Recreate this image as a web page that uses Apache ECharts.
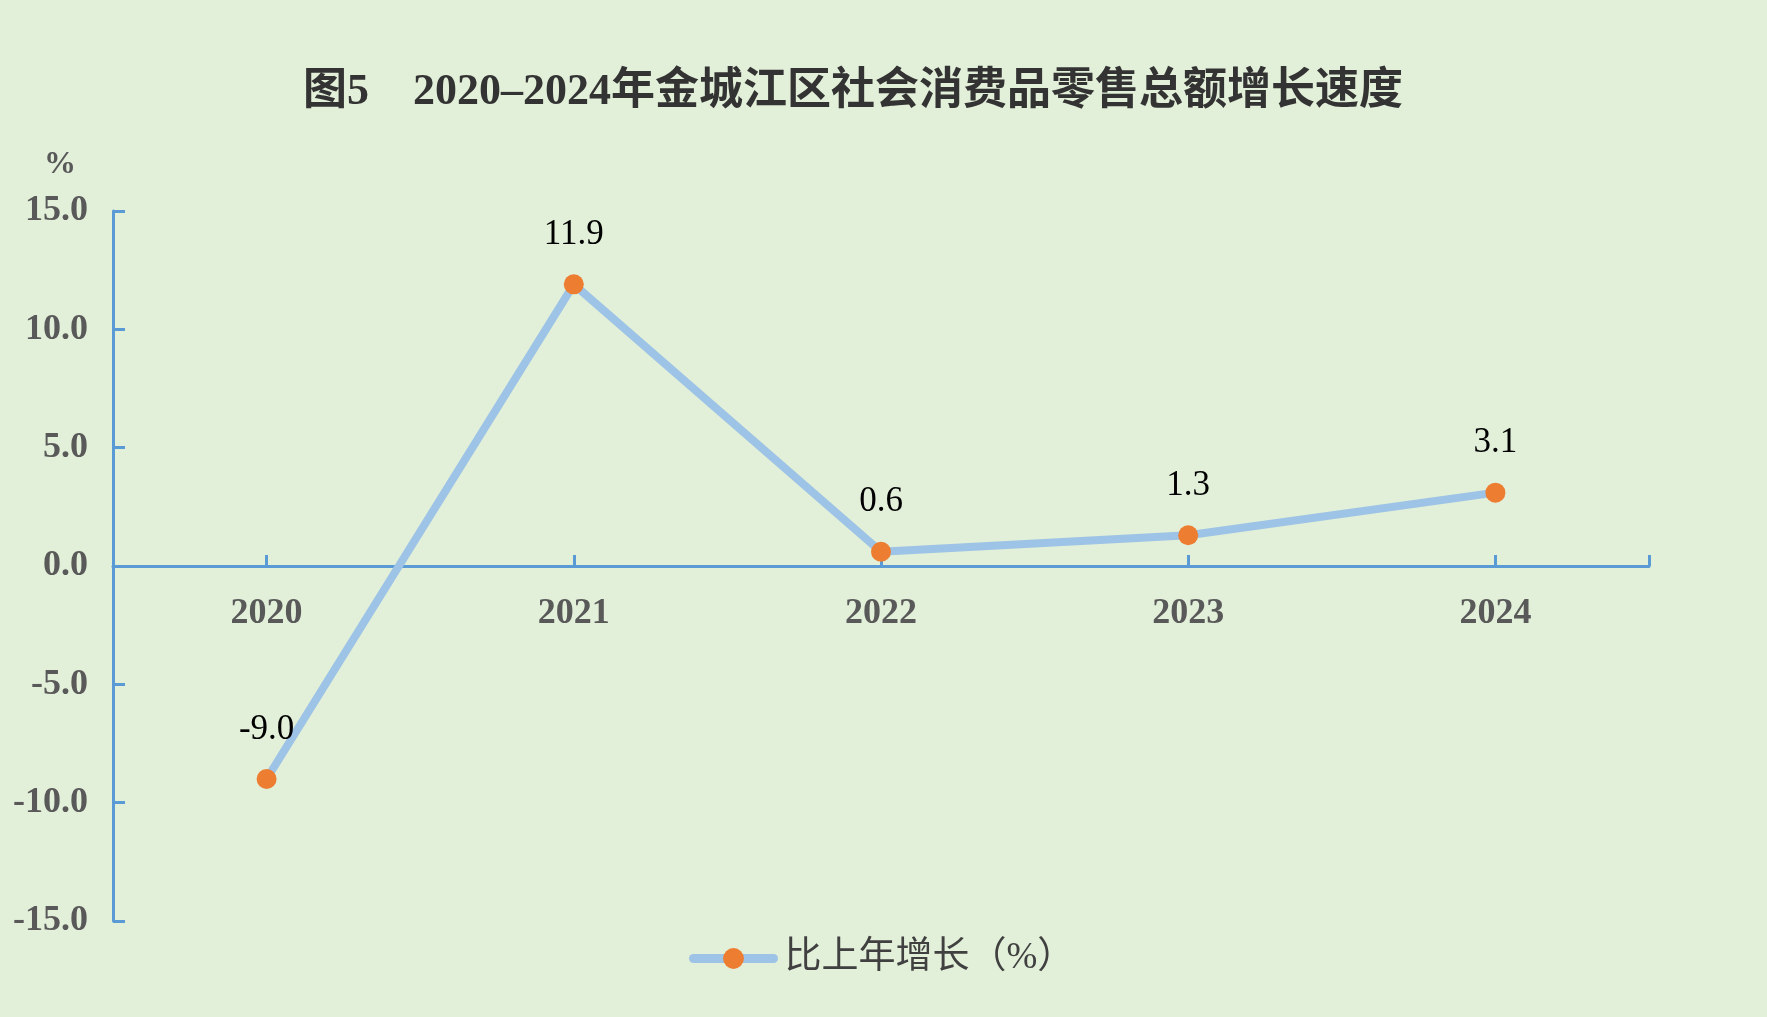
<!DOCTYPE html>
<html>
<head>
<meta charset="utf-8">
<script src="https://cdn.jsdelivr.net/npm/echarts@6/dist/echarts.min.js"></script>
<style>
html,body{margin:0;padding:0;background:#E2EFD9;}
#main{width:1767px;height:1017px;}
</style>
</head>
<body>
<div id="main"></div>
<script>
const titleText = '图5　2020–2024年金城江区社会消费品零售总额增长速度';
const years = ['2020', '2021', '2022', '2023', '2024'];
const growth = [-9.0, 11.9, 0.6, 1.3, 3.1];
const seriesName = '比上年增长（%）';
const yUnit = '%';
const yMin = -15, yMax = 15, yStep = 5;

const chart = echarts.init(document.getElementById('main'));
const serif = '"Liberation Serif", "Times New Roman", "Noto Sans CJK SC", serif';
const gridTop = 211, gridBottom = 96, H = 1017;
const plotH = H - gridTop - gridBottom;
const zeroOffset = -plotH * (0 - yMin) / (yMax - yMin);
const axisColor = '#5B9BD5';

chart.setOption({
  backgroundColor: '#E2EFD9',
  animation: false,
  title: {
    text: titleText,
    left: 298,
    top: 66,
    textStyle: { fontFamily: serif, fontSize: 44, fontWeight: 'bold', color: '#333333' }
  },
  legend: {
    data: [seriesName],
    top: 935,
    left: 684,
    itemWidth: 80,
    itemHeight: 26,
    lineStyle: { width: 9, color: '#9DC3E6', cap: 'round' },
    textStyle: { fontFamily: serif, fontSize: 37, color: '#404040', padding: [0, 0, 0, 6] }
  },
  grid: { left: 113, right: 118, top: gridTop, bottom: gridBottom, containLabel: false },
  xAxis: [{
    type: 'category',
    data: years,
    boundaryGap: true,
    offset: zeroOffset,
    axisLine: { onZero: false, lineStyle: { color: axisColor, width: 3 } },
    axisTick: { show: true, alignWithLabel: true, inside: true, length: 11, lineStyle: { color: axisColor, width: 3 } },
    axisLabel: { margin: 30, fontFamily: serif, fontSize: 36, fontWeight: 'bold', color: '#595959' }
  }, {
    type: 'value',
    min: 0,
    max: years.length,
    interval: years.length,
    position: 'bottom',
    offset: zeroOffset,
    splitLine: { show: false },
    axisLine: { show: false },
    axisLabel: { show: false },
    axisTick: { show: true, inside: true, length: 11, lineStyle: { color: axisColor, width: 3 } }
  }],
  yAxis: {
    type: 'value',
    min: yMin,
    max: yMax,
    interval: yStep,
    name: yUnit,
    nameLocation: 'end',
    nameGap: 30,
    nameTextStyle: { fontFamily: serif, fontSize: 32, fontWeight: 'bold', color: '#595959', align: 'center', padding: [0, 106, 0, 0] },
    splitLine: { show: false },
    axisLine: { show: true, lineStyle: { color: axisColor, width: 3 } },
    axisTick: { show: true, inside: true, length: 12, lineStyle: { color: axisColor, width: 3 } },
    axisLabel: { margin: 25, fontFamily: serif, fontSize: 36, fontWeight: 'bold', color: '#595959', formatter: v => v.toFixed(1) }
  },
  series: [{
    name: seriesName,
    type: 'line',
    xAxisIndex: 0,
    data: growth,
    symbol: 'circle',
    symbolSize: 20,
    lineStyle: { color: '#9DC3E6', width: 8 },
    itemStyle: { color: '#ED7D31', borderWidth: 0 },
    label: {
      show: true,
      position: 'top',
      distance: 22,
      fontFamily: serif,
      fontSize: 35,
      color: '#000000',
      formatter: p => p.value.toFixed(1)
    },
    z: 3
  }]
});
</script>
</body>
</html>
